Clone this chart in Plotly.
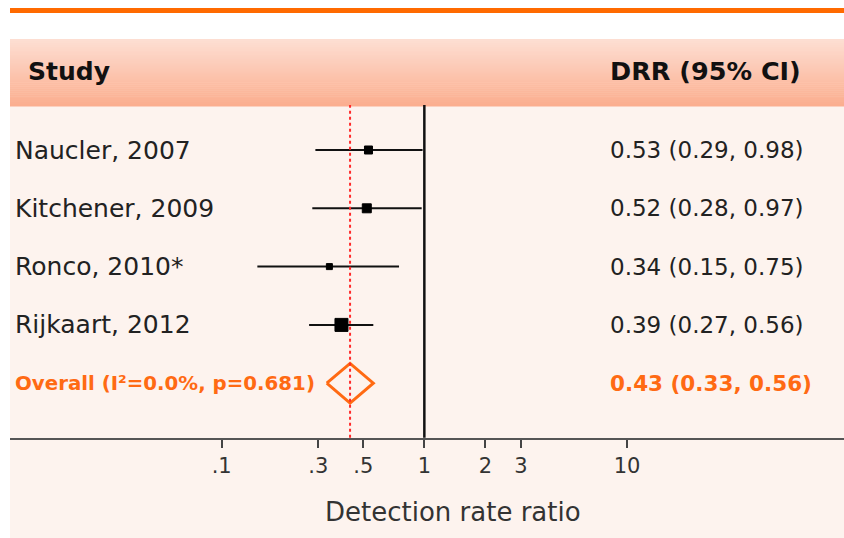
import plotly.graph_objects as go

# ---------------- data ----------------
studies = ["Naucler, 2007", "Kitchener, 2009", "Ronco, 2010*", "Rijkaart, 2012"]
drr = [0.53, 0.52, 0.34, 0.39]
ci_low = [0.29, 0.28, 0.15, 0.27]
ci_high = [0.98, 0.97, 0.75, 0.56]

overall_label = "Overall (I\u00b2=0.0%, p=0.681)"
overall_drr = 0.43
overall_low = 0.33
overall_high = 0.56

null_value = 1
tick_values = [0.1, 0.3, 0.5, 1, 2, 3, 10]
tick_labels = [".1", ".3", ".5", "1", "2", "3", "10"]

header_left = "Study"
header_right = "DRR (95% CI)"
x_title = "Detection rate ratio"

# ---------------- style ----------------
W, H = 844, 538
FONT = "DejaVu Sans"
ORANGE = "#FF6A13"
PANEL = "#FDF3EE"
TXT = "#222222"
square_sizes = [8, 9, 6, 13]

def py(px):  # pixel row -> paper y
    return 1 - px / H

def pxx(px):  # pixel col -> paper x
    return px / W

n = len(studies)
rows = list(range(n))
overall_row = n

fig = go.Figure()

# CI lines
xs, ys = [], []
for i in rows:
    xs += [ci_low[i], ci_high[i], None]
    ys += [i, i, None]
fig.add_trace(go.Scatter(x=xs, y=ys, mode="lines",
                         line=dict(color="#111111", width=2),
                         hoverinfo="skip", showlegend=False))
# point estimates
fig.add_trace(go.Scatter(x=drr, y=rows, mode="markers",
                         marker=dict(symbol="square", size=square_sizes, color="#000000",
                                     opacity=1, line=dict(width=1, color="#000000")),
                         showlegend=False))
# overall diamond
hh = 0.34
fig.add_trace(go.Scatter(
    x=[overall_low, overall_drr, overall_high, overall_drr, overall_low],
    y=[overall_row, overall_row - hh, overall_row, overall_row + hh, overall_row],
    mode="lines", line=dict(color=ORANGE, width=3), showlegend=False, hoverinfo="skip"))

shapes = []
# top orange rule
shapes.append(dict(type="rect", xref="paper", yref="paper", x0=pxx(10), x1=1,
                   y0=py(13), y1=py(8), fillcolor="#FF6A00", line=dict(width=0), layer="below"))
# panel background
shapes.append(dict(type="rect", xref="paper", yref="paper", x0=pxx(10), x1=1,
                   y0=0, y1=py(106), fillcolor=PANEL, line=dict(width=0), layer="below"))
# header gradient
top_c = (253, 222, 210)
bot_c = (251, 174, 143)
y_top, y_bot = 39, 106
steps = 34
for k in range(steps):
    t = k / (steps - 1)
    c = tuple(round(top_c[j] + (bot_c[j] - top_c[j]) * t) for j in range(3))
    a = y_top + (y_bot - y_top) * k / steps
    b = y_top + (y_bot - y_top) * (k + 1) / steps
    shapes.append(dict(type="rect", xref="paper", yref="paper", x0=pxx(10), x1=1,
                       y0=py(b + 0.5), y1=py(a), fillcolor="rgb(%d,%d,%d)" % c,
                       line=dict(width=0), layer="below"))
# null line
shapes.append(dict(type="line", xref="x", yref="paper", x0=null_value, x1=null_value,
                   y0=py(437.7), y1=py(105), line=dict(color="#111111", width=2.5)))
# overall dotted line
shapes.append(dict(type="line", xref="x", yref="paper", x0=overall_drr, x1=overall_drr,
                   y0=py(437.7), y1=py(105), line=dict(color="#FF2A2A", width=2, dash="dot")))

ann = []
ann.append(dict(text="<b>%s</b>" % header_left, x=pxx(26), y=py(71), xref="paper", yref="paper",
                xanchor="left", yanchor="middle", showarrow=False,
                font=dict(family=FONT, size=25, color="#111111")))
ann.append(dict(text="<b>%s</b>" % header_right, x=pxx(608), y=py(71), xref="paper", yref="paper",
                xanchor="left", yanchor="middle", showarrow=False,
                font=dict(family=FONT, size=25.5, color="#111111")))
for i in rows:
    ann.append(dict(text=studies[i], x=pxx(13), y=i, xref="paper", yref="y",
                    xanchor="left", yanchor="middle", showarrow=False,
                    font=dict(family=FONT, size=25, color=TXT)))
    ann.append(dict(text="%.2f (%.2f, %.2f)" % (drr[i], ci_low[i], ci_high[i]),
                    x=pxx(608), y=i, xref="paper", yref="y",
                    xanchor="left", yanchor="middle", showarrow=False,
                    font=dict(family=FONT, size=23, color=TXT)))
ann.append(dict(text="<b>%s</b>" % overall_label, x=pxx(13), y=overall_row, xref="paper", yref="y",
                xanchor="left", yanchor="middle", showarrow=False,
                font=dict(family=FONT, size=19.8, color=ORANGE)))
ann.append(dict(text="<b>%.2f (%.2f, %.2f)</b>" % (overall_drr, overall_low, overall_high),
                x=pxx(608), y=overall_row, xref="paper", yref="y",
                xanchor="left", yanchor="middle", showarrow=False,
                font=dict(family=FONT, size=21.5, color=ORANGE)))
ann.append(dict(text=x_title, x=pxx(453), y=py(512), xref="paper", yref="paper",
                xanchor="center", yanchor="middle", showarrow=False,
                font=dict(family=FONT, size=26, color="#333333")))

row0_px, row_step = 150, 58.3
axis_px = 437.7
fig.update_layout(
    width=W, height=H, margin=dict(l=0, r=0, t=0, b=0),
    paper_bgcolor="white", plot_bgcolor="rgba(0,0,0,0)",
    shapes=shapes, annotations=ann, showlegend=False,
    xaxis=dict(type="log", domain=[10 / W, 1],
               range=[-1 - (221.7 - 10) / 202.7, 1 + (W - 627) / 202.7],
               tickvals=tick_values, ticktext=tick_labels,
               ticks="outside", ticklen=8, tickwidth=2, tickcolor="#444444",
               ticklabelstandoff=0,
               showline=True, linecolor="#555555", linewidth=2,
               showgrid=False, zeroline=False,
               tickfont=dict(family=FONT, size=21, color="#333333")),
    yaxis=dict(domain=[1 - axis_px / H, 1],
               range=[(axis_px - row0_px) / row_step, -row0_px / row_step],
               visible=False, showgrid=False, zeroline=False),
)

fig.write_html("out.html", config={"displayModeBar": False},
               post_script="document.body.style.margin='0';document.body.style.overflow='hidden';")
